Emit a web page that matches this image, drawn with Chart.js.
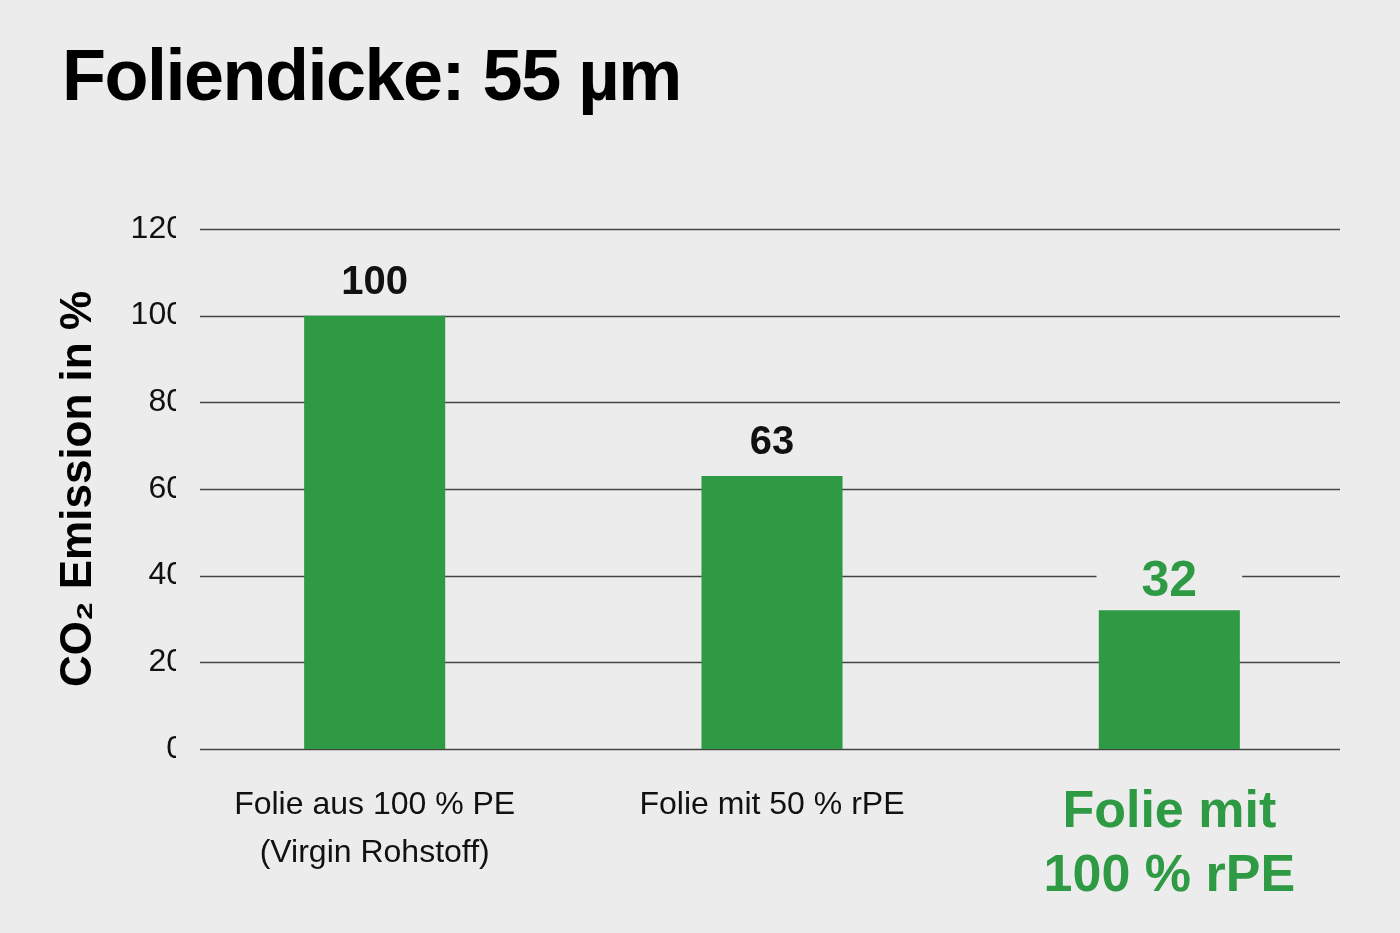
<!DOCTYPE html>
<html><head><meta charset="utf-8">
<script src="https://cdn.jsdelivr.net/npm/chart.js@4"></script>
<style>
body{margin:0;background:#ececec;width:1400px;height:933px;overflow:hidden;font-family:"Liberation Sans",Arial,sans-serif}
h1{position:absolute;left:62px;top:34px;margin:0;font-size:72px;font-weight:bold;letter-spacing:-1.5px;color:#000}
#c{position:absolute;left:0;top:0}
</style></head><body>
<h1>Foliendicke: 55 µm</h1>
<canvas id="c" width="1400" height="933"></canvas>
<script>
const categories=[["Folie aus 100 % PE","(Virgin Rohstoff)"],["Folie mit 50 % rPE"],["Folie mit","100 % rPE"]];
const values=[100,63,32];
const valueLabels=["100","63","32"];
const yTitle="CO₂ Emission in %";
const green="#2e9a44";
const FONT='"Liberation Sans",Arial,sans-serif';
const plug={id:'p',
 beforeDatasetsDraw(ch){const y=ch.scales.y,c=ch.ctx;c.save();c.strokeStyle='#444';c.lineWidth=1.5;
  y.ticks.forEach(t=>{const py=Math.round(y.getPixelForValue(t.value))+0.5;c.beginPath();c.moveTo(200,py);c.lineTo(1340,py);c.stroke();});c.restore();},
 afterDatasetsDraw(ch){const c=ch.ctx,m=ch.getDatasetMeta(0);c.save();c.textAlign='center';c.textBaseline='alphabetic';
  m.data.forEach((b,i)=>{const last=i===2;c.font='bold '+(last?50:40)+'px '+FONT;
   const w=c.measureText(valueLabels[i]).width;
   if(last){c.fillStyle='#ececec';c.fillRect(b.x-w/2-45,b.y-70,w+90,60);}
   c.fillStyle=last?green:'#111';c.fillText(valueLabels[i],b.x,b.y-(last?14:22));});c.restore();}};
new Chart(document.getElementById('c'),{type:'bar',
 data:{labels:categories,datasets:[{data:values,backgroundColor:green,barPercentage:0.355,categoryPercentage:1}]},
 options:{responsive:false,animation:false,devicePixelRatio:1,
  layout:{padding:{top:229,right:32,left:0,bottom:0}},
  plugins:{legend:{display:false},tooltip:{enabled:false}},
  scales:{
   y:{min:0,max:120,ticks:{stepSize:20,padding:-16,color:'#111',font:{size:32,family:FONT}},grid:{display:false},border:{display:false},
      title:{display:true,text:yTitle,color:'#000',font:{size:44,weight:'bold',family:FONT},padding:{top:52,bottom:0}},
      afterFit(s){s.width=176;}},
   x:{grid:{display:false},border:{display:false},
      ticks:{padding:24,color:c=>c.index===2?green:'#111',
        font:c=>c.index===2?{size:52,weight:'bold',family:FONT,lineHeight:1.22}:{size:32,family:FONT,lineHeight:1.5}},
      afterFit(s){s.height=184;}}}},
 plugins:[plug]});
</script></body></html>
